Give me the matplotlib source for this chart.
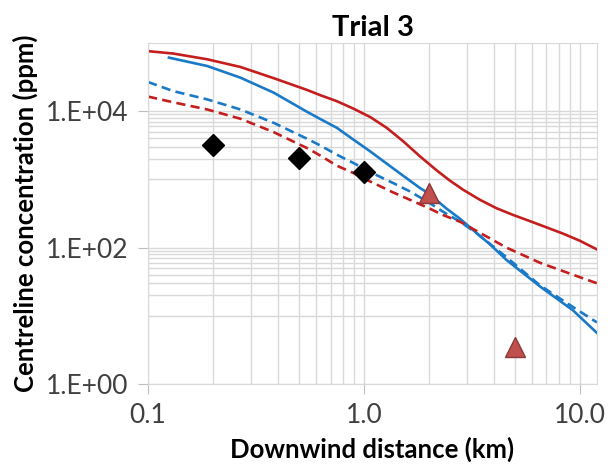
import numpy as np
import matplotlib
matplotlib.use("Agg")
import matplotlib.pyplot as plt
from matplotlib.ticker import FixedLocator, NullFormatter

plt.rcParams['font.family'] = ['Lato', 'DejaVu Sans']

# model curves (distance km, concentration ppm)
red_x = [0.1, 0.131, 0.188, 0.268, 0.382, 0.545, 0.627, 0.75, 0.894, 1.07, 1.276, 1.52, 1.82,
         2.17, 2.5, 2.89, 3.45, 4.11, 4.91, 5.86, 7.01, 8.37, 10.0, 12.0]
red_y = [76000, 70000, 57700, 44500, 30500, 20500, 17200, 14000, 10900, 8200, 5690, 3620, 2170,
         1360, 960, 700, 501, 378, 301, 245, 198, 160, 126, 94]

blue_x = [0.125, 0.188, 0.268, 0.382, 0.545, 0.627, 0.75, 0.894, 1.07, 1.276, 1.52, 1.82, 1.97,
          2.42, 2.785, 3.43, 3.83, 4.57, 6.53, 9.3, 12.0]
blue_y = [61000, 46000, 31000, 18700, 9800, 7700, 5690, 3830, 2570, 1700, 1130, 745, 640,
          370, 265, 150, 112, 66, 27, 12, 5.6]

blue_dash_x = [0.1, 0.131, 0.188, 0.268, 0.382, 0.545, 0.627, 0.75, 0.894, 1.07, 1.37, 1.636, 2.0,
               2.32, 2.785, 3.33, 4.58, 6.53, 9.3, 12.0]
blue_dash_y = [26800, 19700, 14900, 10600, 6750, 3950, 3150, 2300, 1740, 1280, 880, 664, 457,
               337, 240, 162, 72, 28, 13.4, 8.0]

red_dash_x = [0.1, 0.131, 0.188, 0.268, 0.382, 0.545, 0.627, 0.75, 0.894, 1.07, 1.37, 1.636, 2.0,
              2.32, 2.785, 3.33, 4.57, 6.53, 9.3, 12.0]
red_dash_y = [16400, 13500, 10600, 7750, 4930, 2880, 2240, 1585, 1240, 930, 641, 501, 378,
              301, 240, 175, 100, 60, 40, 30]

# observations
diamond_x = [0.2, 0.5, 1.0]
diamond_y = [3240, 2060, 1306]
tri_x = [2.0, 5.0]
tri_y = [640, 3.5]

red = '#C41E1E'
blue = '#1A7AC8'

fig = plt.figure(figsize=(6.15, 4.69), dpi=100)
ax = fig.add_axes([0.2407, 0.1812, 0.73, 0.7271])

ax.plot(red_x, red_y, color=red, lw=1.9)
ax.plot(blue_x, blue_y, color=blue, lw=1.9)
ax.plot(blue_dash_x, blue_dash_y, color=blue, lw=1.9, ls=(0, (3.5, 2)))
ax.plot(red_dash_x, red_dash_y, color=red, lw=1.9, ls=(0, (3.5, 2)))
ax.plot(diamond_x, diamond_y, ls='none', marker='D', ms=11, color='black', zorder=5)
ax.plot(tri_x, tri_y, ls='none', marker='^', ms=14, mfc='#C0504D', mec='#8C3836', mew=1, zorder=5)

ax.set_xscale('log')
ax.set_yscale('log')
ax.set_xlim(0.1, 12)
ax.set_ylim(1, 1e5)

ax.xaxis.set_major_locator(FixedLocator([0.1, 1, 10]))
ax.set_xticklabels(['0.1', '1.0', '10.0'])
ax.xaxis.set_minor_locator(FixedLocator([k * 10.0 ** e for e in (-1, 0, 1) for k in range(2, 10)]))
ax.xaxis.set_minor_formatter(NullFormatter())
ax.yaxis.set_major_locator(FixedLocator([1, 100, 1e4]))
ax.set_yticklabels(['1.E+00', '1.E+02', '1.E+04'])
ax.yaxis.set_minor_locator(FixedLocator([k * 10.0 ** e for e in (1, 3) for k in range(1, 10)]))
ax.yaxis.set_minor_formatter(NullFormatter())

ax.grid(True, which='both', color='#D9D9D9', lw=1)
ax.set_axisbelow(True)
ax.tick_params(which='major', length=7, color='#BFBFBF', labelsize=19, labelcolor='#404040', pad=7)
ax.tick_params(which='minor', length=0)
for s in ax.spines.values():
    s.set_color('#D9D9D9')

ax.set_title('Trial 3', fontsize=21, fontweight='bold', pad=5)
ax.set_xlabel('Downwind distance (km)', fontsize=18.5, fontweight='bold', labelpad=6)
ax.set_ylabel('Centreline concentration (ppm)', fontsize=18.5, fontweight='bold', labelpad=6)

fig.savefig('out.png', dpi=100)
